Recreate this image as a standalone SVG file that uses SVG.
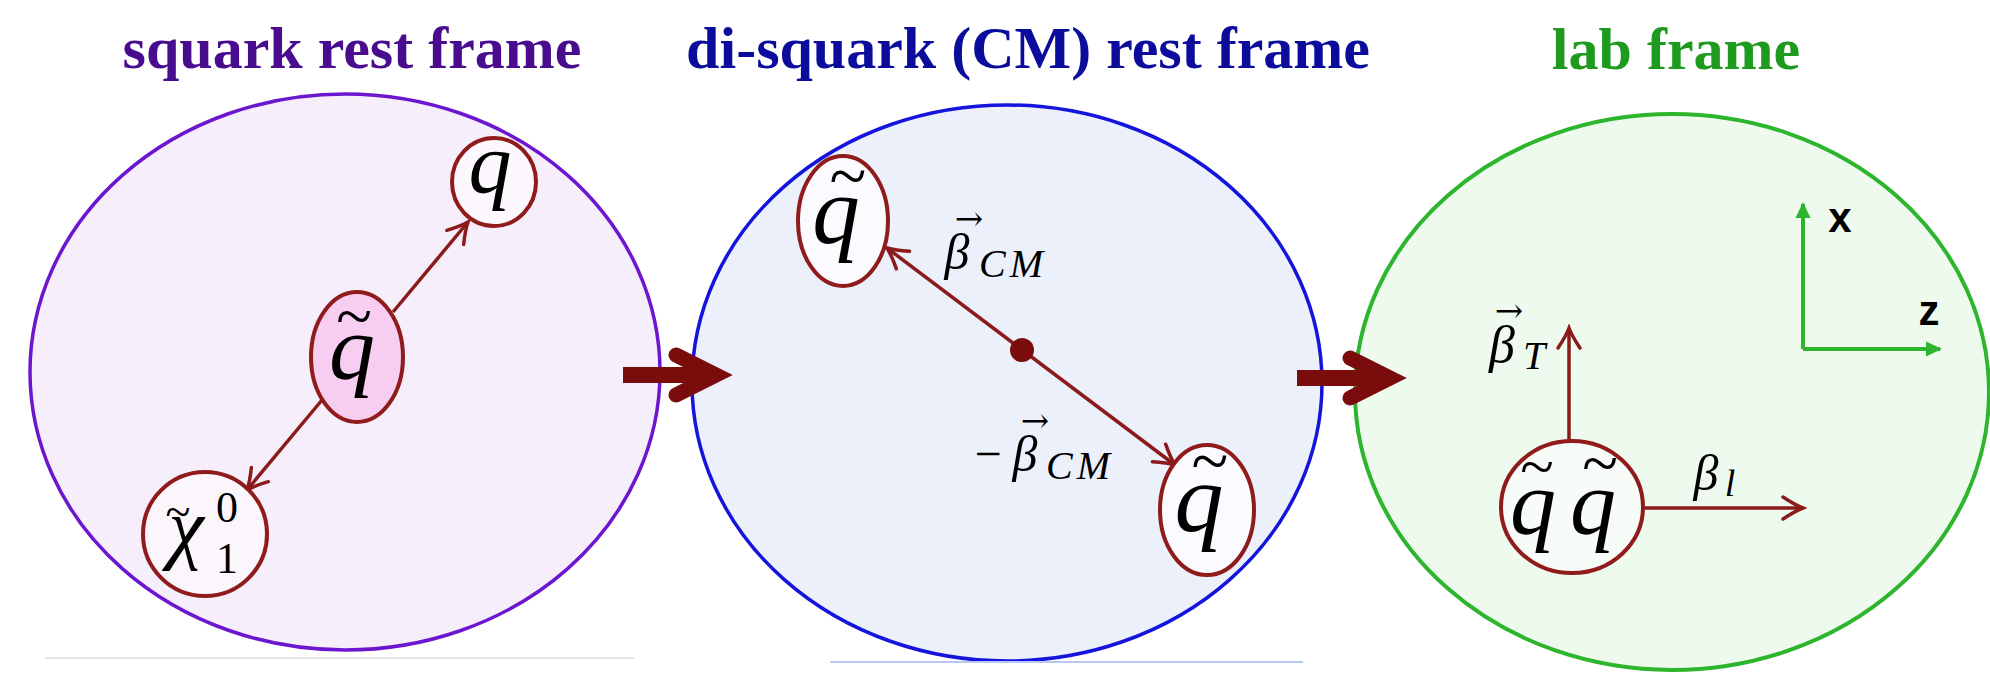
<svg xmlns="http://www.w3.org/2000/svg" width="1990" height="673" viewBox="0 0 1990 673">
<defs>
<style>
.title{font-family:"Liberation Serif","Times New Roman",serif;font-weight:bold;font-size:60px;text-anchor:middle}
.m{font-family:"Liberation Serif","Times New Roman",serif;font-style:italic;fill:#000;text-anchor:middle}
.r{font-family:"Liberation Serif","Times New Roman",serif;fill:#000;text-anchor:middle}
.tl{font-family:"Liberation Serif","Times New Roman",serif;fill:#000;text-anchor:middle}
.vec{font-family:"DejaVu Serif",serif;fill:#000;text-anchor:middle;font-size:34px}
.ax{font-family:"Liberation Sans",Arial,sans-serif;font-weight:bold;font-size:42px;fill:#000;text-anchor:middle}
.node{stroke:#8f1b1b;stroke-width:4}
.conn{stroke:#8b1a1a;stroke-width:3.5;fill:none}
.big{stroke:#7a0c0c;fill:none}
.axis{stroke:#2db52d;stroke-width:4;fill:none}
</style>
<marker id="ah" viewBox="-24 -14 28 28" refX="0" refY="0" markerWidth="28" markerHeight="28" markerUnits="userSpaceOnUse" orient="auto-start-reverse">
<path d="M-20,-11 Q-8,-3 0,0 Q-8,3 -20,11" fill="none" stroke="#8b1a1a" stroke-width="3.5" stroke-linecap="round"/>
</marker>
<marker id="gh" viewBox="-16 -9 18 18" refX="0" refY="0" markerWidth="18" markerHeight="18" markerUnits="userSpaceOnUse" orient="auto">
<path d="M2,0 L-14,-7.5 L-14,7.5 Z" fill="#2db52d"/>
</marker>
</defs>
<rect width="1990" height="673" fill="#ffffff"/>

<g id="frames">
<ellipse id="squark-frame" cx="345" cy="372" rx="315" ry="278" fill="#f6effb" stroke="#6c17cf" stroke-width="3.5"/>
<ellipse id="cm-frame" cx="1007" cy="383" rx="315" ry="278" fill="#ecf0fb" stroke="#1414dc" stroke-width="3.5"/>
<ellipse id="lab-frame" cx="1672" cy="392" rx="317" ry="278" fill="#effaef" stroke="#2db52d" stroke-width="4"/>
<line x1="45" y1="658" x2="634" y2="658" stroke="#e4e4ea" stroke-width="2"/>
<line x1="830" y1="662" x2="1303" y2="662" stroke="#b8c8f4" stroke-width="2"/>
</g>

<g id="titles">
<text class="title" x="352" y="68" fill="#4a0c8e">squark rest frame</text>
<text class="title" x="1028" y="68" fill="#0c0c9c">di-squark (CM) rest frame</text>
<text class="title" x="1676" y="69" fill="#1e9a1e">lab frame</text>
</g>

<g id="connectors">
<line class="conn" x1="393" y1="312" x2="468" y2="222" marker-end="url(#ah)"/>
<line class="conn" x1="322" y1="400" x2="247" y2="490" marker-end="url(#ah)"/>
<line class="conn" x1="887" y1="248" x2="1175" y2="465" marker-start="url(#ah)" marker-end="url(#ah)"/>
<circle cx="1022" cy="350" r="12" fill="#7a0c0c"/>
<line class="conn" x1="1569" y1="441" x2="1569" y2="328" marker-end="url(#ah)"/>
<line class="conn" x1="1643" y1="508" x2="1803" y2="508" marker-end="url(#ah)"/>
<g id="big-arrow-1">
<line class="big" x1="623" y1="375" x2="712" y2="375" stroke-width="16"/>
<path class="big" d="M676,355 L716,375 L676,395" stroke-width="15" stroke-linecap="round" stroke-linejoin="miter"/>
</g>
<g id="big-arrow-2">
<line class="big" x1="1297" y1="378" x2="1386" y2="378" stroke-width="16"/>
<path class="big" d="M1350,358 L1390,378 L1350,398" stroke-width="15" stroke-linecap="round" stroke-linejoin="miter"/>
</g>
<g id="axes">
<line class="axis" x1="1803" y1="349" x2="1940" y2="349" marker-end="url(#gh)"/>
<line class="axis" x1="1803" y1="349" x2="1803" y2="204" marker-end="url(#gh)"/>
</g>
</g>

<g id="node-q">
<ellipse class="node" cx="494" cy="182" rx="42" ry="44" fill="#fdf8fd"/>
<text class="m" x="490" y="192" font-size="86">q</text>
</g>

<g id="node-squark">
<ellipse class="node" cx="357" cy="357" rx="46" ry="65" fill="#f7cdf2"/>
<text class="tl" x="354" y="338" font-size="66">~</text>
<text class="m" x="352" y="379" font-size="92">q</text>
</g>

<g id="node-chi">
<circle class="node" cx="205" cy="534" r="62" fill="#fbf6fc"/>
<text class="tl" x="178" y="527" font-size="46">~</text>
<text class="m" x="186" y="554" font-size="80">χ</text>
<text class="r" x="227" y="522" font-size="44">0</text>
<text class="r" x="227" y="573" font-size="44">1</text>
</g>

<g id="node-squark-a">
<ellipse class="node" cx="843" cy="221" rx="45" ry="65" fill="#fbfbff"/>
<text class="tl" x="848" y="199" font-size="68">~</text>
<text class="m" x="836" y="243" font-size="95">q</text>
</g>

<g id="node-squark-b">
<ellipse class="node" cx="1207" cy="510" rx="47" ry="65" fill="#fbfbff"/>
<text class="tl" x="1210" y="484" font-size="68">~</text>
<text class="m" x="1199" y="531" font-size="98">q</text>
</g>

<g id="labels">
<text class="vec" x="969" y="230">→</text>
<text class="m" x="957" y="269" font-size="50">β</text>
<text class="m" x="1013" y="277" font-size="40" letter-spacing="4">CM</text>
<text class="r" x="988" y="470" font-size="48">−</text>
<text class="vec" x="1035" y="432">→</text>
<text class="m" x="1025" y="471" font-size="50">β</text>
<text class="m" x="1080" y="479" font-size="40" letter-spacing="4">CM</text>
<text class="vec" x="1509" y="322">→</text>
<text class="m" x="1502" y="362" font-size="52">β</text>
<text class="m" x="1534" y="369" font-size="40">T</text>
<text class="m" x="1706" y="490" font-size="50">β</text>
<text class="m" x="1730" y="496" font-size="38">l</text>
<text class="ax" x="1840" y="232">x</text>
<text class="ax" x="1929" y="325">z</text>
</g>

<g id="node-pair">
<ellipse class="node" cx="1572" cy="507" rx="71" ry="66" fill="#f8fcf8"/>
<text class="tl" x="1537" y="487" font-size="62">~</text>
<text class="tl" x="1600" y="485" font-size="66">~</text>
<text class="m" x="1533" y="534" font-size="92">q</text>
<text class="m" x="1593" y="534" font-size="92">q</text>
</g>
</svg>
